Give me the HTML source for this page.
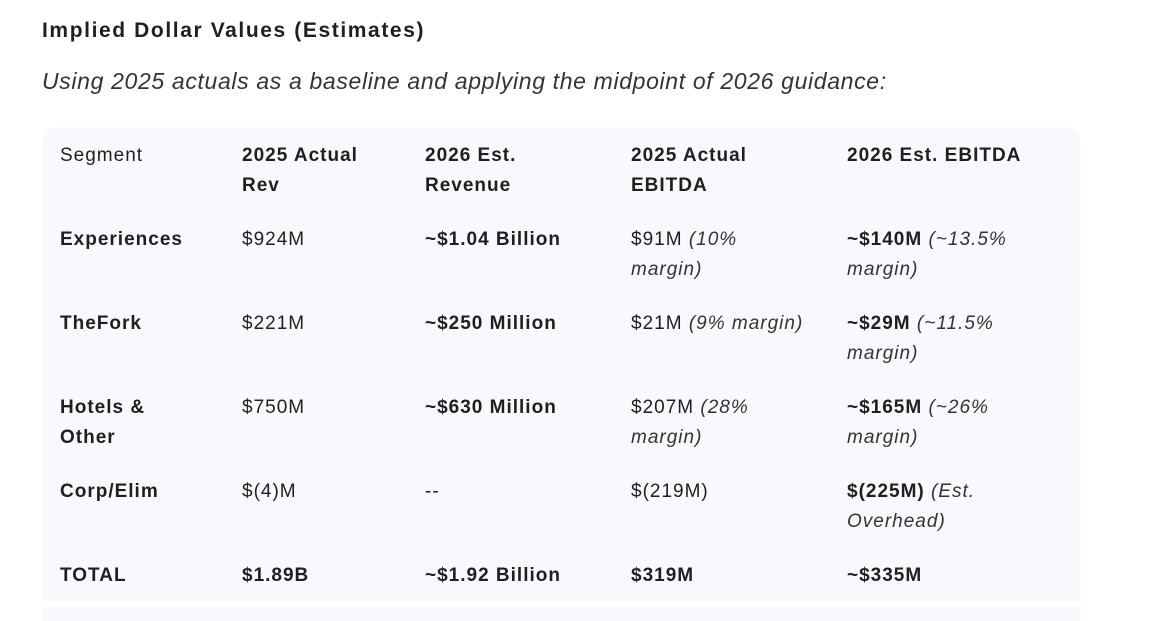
<!DOCTYPE html>
<html><head><meta charset="utf-8"><style>
body{margin:0;width:1169px;height:619px;background:#fff;overflow:hidden;font-family:"Liberation Sans",Arial,sans-serif;color:#1f1f1f;position:relative}
.t{position:absolute;white-space:nowrap}
#title{left:42px;top:19px;font-size:21px;font-weight:bold;letter-spacing:1.6px}
#sub{left:42px;top:68px;font-size:23px;font-style:italic;color:#333;letter-spacing:0.65px}
#tbl{position:absolute;left:42px;top:127px;width:1038px;height:474px;background:#f8f9fc;border-radius:16px 16px 0 0}
#strip{position:absolute;left:42px;top:607px;width:1038px;height:14px;background:#f8f9fc;border-radius:6px 6px 0 0}
.c{position:absolute;font-size:19px;line-height:30px;white-space:nowrap;letter-spacing:1px}
.b{font-weight:bold}
i{color:#333}
</style></head><body>
<div class="t" id="title">Implied Dollar Values (Estimates)</div>
<div class="t" id="sub">Using 2025 actuals as a baseline and applying the midpoint of 2026 guidance:</div>
<div id="tbl"></div>
<div id="strip"></div>

<div class="c" style="left:60px;top:141px">Segment</div>
<div class="c b" style="left:242px;top:141px">2025 Actual<br>Rev</div>
<div class="c b" style="left:425px;top:141px">2026 Est.<br>Revenue</div>
<div class="c b" style="left:631px;top:141px">2025 Actual<br>EBITDA</div>
<div class="c b" style="left:847px;top:141px">2026 Est. EBITDA</div>

<div class="c b" style="left:60px;top:225px">Experiences</div>
<div class="c" style="left:242px;top:225px">$924M</div>
<div class="c b" style="left:425px;top:225px">~$1.04 Billion</div>
<div class="c" style="left:631px;top:225px">$91M <i>(10%<br>margin)</i></div>
<div class="c" style="left:847px;top:225px"><b>~$140M</b> <i>(~13.5%<br>margin)</i></div>

<div class="c b" style="left:60px;top:309px">TheFork</div>
<div class="c" style="left:242px;top:309px">$221M</div>
<div class="c b" style="left:425px;top:309px">~$250 Million</div>
<div class="c" style="left:631px;top:309px">$21M <i>(9% margin)</i></div>
<div class="c" style="left:847px;top:309px"><b>~$29M</b> <i>(~11.5%<br>margin)</i></div>

<div class="c b" style="left:60px;top:393px">Hotels &amp;<br>Other</div>
<div class="c" style="left:242px;top:393px">$750M</div>
<div class="c b" style="left:425px;top:393px">~$630 Million</div>
<div class="c" style="left:631px;top:393px">$207M <i>(28%<br>margin)</i></div>
<div class="c" style="left:847px;top:393px"><b>~$165M</b> <i>(~26%<br>margin)</i></div>

<div class="c b" style="left:60px;top:477px">Corp/Elim</div>
<div class="c" style="left:242px;top:477px">$(4)M</div>
<div class="c" style="left:425px;top:477px">--</div>
<div class="c" style="left:631px;top:477px">$(219M)</div>
<div class="c" style="left:847px;top:477px"><b>$(225M)</b> <i>(Est.<br>Overhead)</i></div>

<div class="c b" style="left:60px;top:561px">TOTAL</div>
<div class="c b" style="left:242px;top:561px">$1.89B</div>
<div class="c b" style="left:425px;top:561px">~$1.92 Billion</div>
<div class="c b" style="left:631px;top:561px">$319M</div>
<div class="c b" style="left:847px;top:561px">~$335M</div>
</body></html>
